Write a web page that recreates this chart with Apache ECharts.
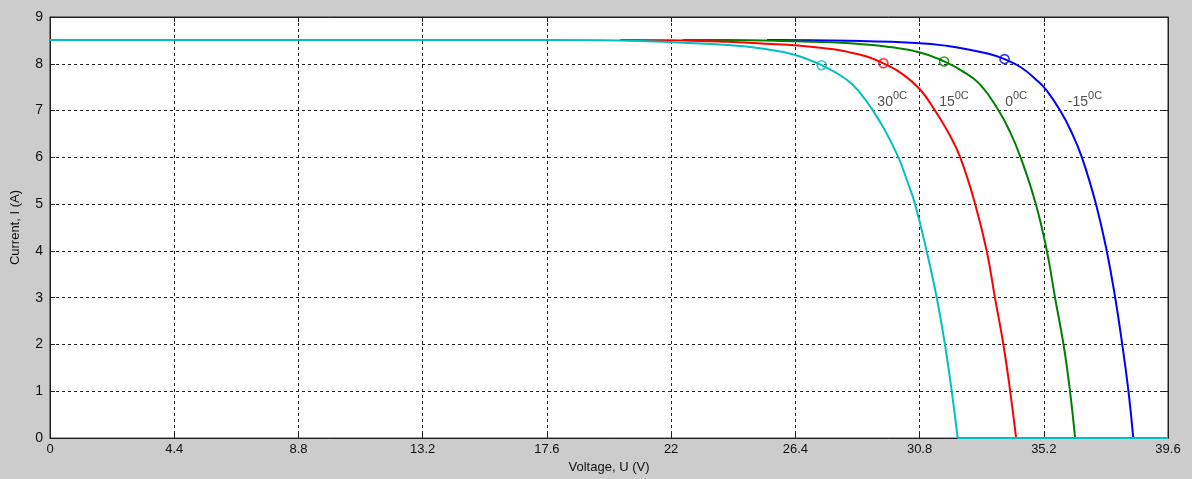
<!DOCTYPE html>
<html>
<head>
<meta charset="utf-8">
<script src="https://cdn.jsdelivr.net/npm/echarts@6/dist/echarts.min.js"></script>
<style>
  html, body { margin: 0; padding: 0; background: #cccccc; }
  #chart { width: 1192px; height: 479px; }
</style>
</head>
<body>
<div id="chart"></div>
<script>
// I-V characteristics of a PV module at four cell temperatures
const xTicks = [0, 4.4, 8.8, 13.2, 17.6, 22, 26.4, 30.8, 35.2, 39.6];
const yTicks = [0, 1, 2, 3, 4, 5, 6, 7, 8, 9];

const tempNames = ['-15', '0', '15', '30'];

// each curve runs from its first point down to open circuit; past that the current stays 0 up to xMaxV
const voltM15 = [25.4, 28.3, 30.82, 31.8, 32.47, 33.2, 33.81, 34.4, 34.95, 35.3, 35.78, 36.15, 36.55, 37.05, 37.43, 37.73, 37.98, 38.20, 38.37];
const currM15 = [8.51, 8.49, 8.44, 8.38, 8.31, 8.22, 8.10, 7.92, 7.65, 7.43, 7.0, 6.58, 6.0, 5.0, 4.0, 3.0, 2.0, 1.0, 0];

const volt0 = [22.4, 24.0, 26.45, 28.34, 29.6, 30.82, 31.67, 32.3, 32.94, 33.6, 34.0, 34.38, 34.92, 35.31, 35.60, 35.90, 36.13, 36.31];
const curr0 = [8.51, 8.51, 8.48, 8.44, 8.37, 8.24, 8.05, 7.85, 7.56, 7.0, 6.55, 6.0, 5.0, 4.0, 3.0, 2.0, 1.0, 0];

const volt15 = [20.2, 22.4, 24.0, 25.4, 26.5, 27.75, 28.2, 28.9, 29.52, 30.2, 30.82, 31.35, 31.8, 32.24, 32.77, 33.18, 33.47, 33.77, 34.01, 34.22];
const curr15 = [8.51, 8.50, 8.47, 8.43, 8.39, 8.31, 8.26, 8.16, 8.01, 7.78, 7.45, 7.0, 6.55, 6.0, 5.0, 4.0, 3.0, 2.0, 1.0, 0];

const volt30 = [0, 4.4, 8.8, 13.2, 17.6, 20.2, 22.4, 24.0, 25.15, 26.33, 27.33, 28.22, 28.69, 29.15, 29.6, 30.05, 30.36, 30.64, 31.05, 31.41, 31.70, 31.94, 32.15];
const curr30 = [8.51, 8.51, 8.51, 8.51, 8.51, 8.50, 8.45, 8.40, 8.33, 8.20, 7.97, 7.66, 7.38, 7.0, 6.55, 6.0, 5.5, 5.0, 4.0, 3.0, 2.0, 1.0, 0];

const xMaxV = 39.6;

// maximum power points (voltage, current)
const mppVolt = [33.81, 31.67, 29.52, 27.33];
const mppCurr = [8.10, 8.05, 8.01, 7.97];

const colors = ['#0000ff', '#008000', '#ff0000', '#00c0c0'];

// anchors of the temperature tags, in axis units
const tagVolt = [36.66, 34.22, 32.02, 29.83];
const tagCurr = [7.23, 7.23, 7.23, 7.23];

const curves = [[voltM15, currM15], [volt0, curr0], [volt15, curr15], [volt30, curr30]];

const fontFam = '"Liberation Sans", Arial, sans-serif';
const gridLine = { show: true, lineStyle: { color: '#222', type: [3, 3], width: 1 } };

const series = [];
curves.forEach(function (c, i) {
  const pts = c[0].map(function (v, k) { return [v, c[1][k]]; });
  const last = pts[pts.length - 1];
  // knee and drop of the curve
  series.push({
    type: 'line',
    data: pts,
    smooth: 0.45,
    showSymbol: false,
    symbol: 'none',
    lineStyle: { color: colors[i], width: 2 },
    z: 2 + i,
    animation: false
  });
  // zero-current run beyond open circuit
  series.push({
    type: 'line',
    data: [last, [xMaxV, 0]],
    showSymbol: false,
    symbol: 'none',
    lineStyle: { color: colors[i], width: 2 },
    z: 2 + i,
    animation: false
  });
});
series.push({
  type: 'scatter',
  data: mppVolt.map(function (v, i) {
    return { value: [v, mppCurr[i]], itemStyle: { borderColor: colors[i] } };
  }),
  symbol: 'circle',
  symbolSize: 9,
  itemStyle: { color: 'rgba(0,0,0,0)', borderWidth: 1.6 },
  z: 10,
  animation: false
});
series.push({
  type: 'scatter',
  data: tagVolt.map(function (v, i) { return [v, tagCurr[i]]; }),
  symbolSize: 0,
  silent: true,
  label: {
    show: true,
    position: 'inside',
    formatter: function (p) { return '{n|' + tempNames[p.dataIndex] + '}{s|0C}'; },
    rich: {
      n: { fontSize: 14, color: '#222', fontFamily: fontFam, verticalAlign: 'bottom', lineHeight: 18 },
      s: { fontSize: 11, color: '#222', fontFamily: fontFam, verticalAlign: 'top', lineHeight: 18, padding: [0, 0, 6, 0] }
    }
  },
  z: 11,
  animation: false
});

const chart = echarts.init(document.getElementById('chart'), null, { renderer: 'canvas' });
chart.setOption({
  backgroundColor: '#cccccc',
  animation: false,
  grid: { left: 50, right: 24, top: 17, bottom: 40, show: true, backgroundColor: '#ffffff', borderColor: '#222', borderWidth: 1 },
  xAxis: [{
    type: 'value',
    min: xTicks[0], max: xTicks[xTicks.length - 1], interval: 4.4,
    name: 'Voltage, U (V)', nameLocation: 'middle', nameGap: 22,
    nameTextStyle: { fontSize: 13, color: '#111', fontFamily: fontFam },
    axisLine: { show: true, onZero: false, lineStyle: { color: '#222', width: 1 } },
    axisTick: { show: true, inside: true, length: 5, lineStyle: { color: '#222' } },
    axisLabel: { fontSize: 13, color: '#111', fontFamily: fontFam, margin: 5,
      formatter: function (v) { return String(Number(v.toFixed(1))); } },
    splitLine: gridLine
  }, {
    type: 'value', position: 'top',
    min: xTicks[0], max: xTicks[xTicks.length - 1], interval: 4.4,
    axisLine: { show: true, onZero: false, lineStyle: { color: '#222' } },
    axisTick: { show: true, inside: true, length: 5, lineStyle: { color: '#222' } },
    axisLabel: { show: false }, splitLine: { show: false }
  }],
  yAxis: [{
    type: 'value',
    min: yTicks[0], max: yTicks[yTicks.length - 1], interval: 1,
    name: 'Current, I (A)', nameLocation: 'middle', nameGap: 28,
    nameTextStyle: { fontSize: 13, color: '#111', fontFamily: fontFam },
    axisLine: { show: true, onZero: false, lineStyle: { color: '#222', width: 1 } },
    axisTick: { show: true, inside: true, length: 5, lineStyle: { color: '#222' } },
    axisLabel: { fontSize: 14, color: '#111', fontFamily: fontFam, margin: 7 },
    splitLine: gridLine
  }, {
    type: 'value', position: 'right',
    min: yTicks[0], max: yTicks[yTicks.length - 1], interval: 1,
    axisLine: { show: true, onZero: false, lineStyle: { color: '#222' } },
    axisTick: { show: true, inside: true, length: 5, lineStyle: { color: '#222' } },
    axisLabel: { show: false }, splitLine: { show: false }
  }],
  series: series
});
</script>
</body>
</html>
